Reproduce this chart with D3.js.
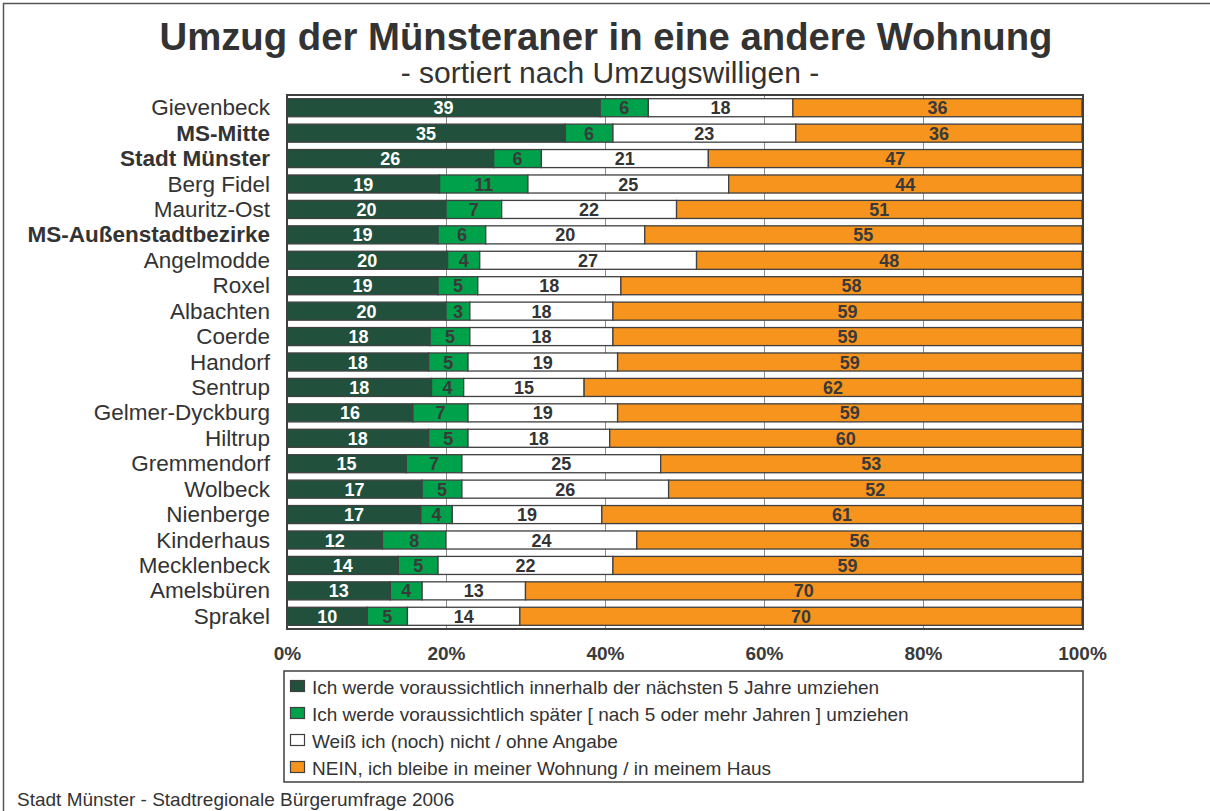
<!DOCTYPE html>
<html>
<head>
<meta charset="utf-8">
<script src="https://cdn.jsdelivr.net/npm/d3@7"></script>
<style>
  html, body { margin: 0; padding: 0; background: #fff; }
  svg { display: block; font-family: "Liberation Sans", Arial, sans-serif; }
</style>
</head>
<body>
<svg id="chart" width="1210" height="811"></svg>
<script>
const categories = ["Gievenbeck","MS-Mitte","Stadt Münster","Berg Fidel","Mauritz-Ost","MS-Außenstadtbezirke","Angelmodde","Roxel","Albachten","Coerde","Handorf","Sentrup","Gelmer-Dyckburg","Hiltrup","Gremmendorf","Wolbeck","Nienberge","Kinderhaus","Mecklenbeck","Amelsbüren","Sprakel"];
const boldCategories = ["MS-Mitte","Stadt Münster","MS-Außenstadtbezirke"];
const soonValues   = [39,35,26,19,20,19,20,19,20,18,18,18,16,18,15,17,17,12,14,13,10];
const laterValues  = [6,6,6,11,7,6,4,5,3,5,5,4,7,5,7,5,4,8,5,4,5];
const unsureValues = [18,23,21,25,22,20,27,18,18,18,19,15,19,18,25,26,19,24,22,13,14];
const stayValues   = [36,36,47,44,51,55,48,58,59,59,59,62,59,60,53,52,61,56,59,70,70];
const seriesKeys = ["soon","later","unsure","stay"];
const seriesNames = [
  "Ich werde voraussichtlich innerhalb der nächsten 5 Jahre umziehen",
  "Ich werde voraussichtlich später [ nach 5 oder mehr Jahren ] umziehen",
  "Weiß ich (noch) nicht / ohne Angabe",
  "NEIN, ich bleibe in meiner Wohnung / in meinem Haus"
];
const xTicks = [0, 0.2, 0.4, 0.6, 0.8, 1];
const titleText = "Umzug der Münsteraner in eine andere Wohnung";
const subtitleText = "- sortiert nach Umzugswilligen -";
const footerText = "Stadt Münster - Stadtregionale Bürgerumfrage 2006";

const colors = { soon: "#21503c", later: "#00a14b", unsure: "#ffffff", stay: "#f7941e" };
const labelColors = { soon: "#ffffff", later: "#3a3a3a", unsure: "#333333", stay: "#3a3a3a" };
const strokeCol = "#404040";
const textCol = "#333333";

const rows = categories.map((c, i) => ({
  cat: c, soon: soonValues[i], later: laterValues[i], unsure: unsureValues[i], stay: stayValues[i]
}));
const stacked = d3.stack().keys(seriesKeys).offset(d3.stackOffsetExpand)(rows);

const svg = d3.select("#chart");
const pLeft = 287, pRight = 1082, pTop = 95, pBottom = 629;

const x = d3.scaleLinear().domain([0, 1]).range([pLeft, pRight]);
const y = d3.scaleBand().domain(categories).range([pTop, pBottom]).paddingInner(0.29).paddingOuter(0.145);

// outer frame
svg.append("rect").attr("x", 3.5).attr("y", 3.5).attr("width", 1300).attr("height", 900)
  .attr("fill", "none").attr("stroke", "#555").attr("stroke-width", 1.5);

// title
svg.append("text").attr("x", 606).attr("y", 50).attr("text-anchor", "middle")
  .attr("font-size", 38.3).attr("font-weight", "bold").attr("fill", textCol).text(titleText);
svg.append("text").attr("x", 610).attr("y", 83).attr("text-anchor", "middle")
  .attr("font-size", 30).attr("fill", textCol).text(subtitleText);

// plot background & gridlines
svg.append("rect").attr("x", pLeft).attr("y", pTop).attr("width", pRight - pLeft).attr("height", pBottom - pTop).attr("fill", "#fff");
svg.append("g").selectAll("line").data(xTicks.slice(1, -1)).join("line")
  .attr("x1", d => Math.round(x(d)) + 0.5).attr("x2", d => Math.round(x(d)) + 0.5)
  .attr("y1", pTop).attr("y2", pBottom).attr("stroke", "#8c8c8c").attr("stroke-width", 1);

// bars
const g = svg.append("g");
stacked.forEach(s => {
  const key = s.key;
  const grp = g.append("g");
  grp.selectAll("rect").data(s).join("rect")
    .attr("x", d => x(d[0])).attr("width", d => x(d[1]) - x(d[0]))
    .attr("y", d => y(d.data.cat)).attr("height", y.bandwidth())
    .attr("fill", colors[key]).attr("stroke", strokeCol).attr("stroke-width", 1.3);
  grp.selectAll("text").data(s).join("text")
    .attr("x", d => (x(d[0]) + x(d[1])) / 2)
    .attr("y", d => y(d.data.cat) + y.bandwidth() / 2 + 6.5)
    .attr("text-anchor", "middle").attr("font-size", 18).attr("font-weight", "bold")
    .attr("fill", labelColors[key]).text(d => d.data[key]);
});

// plot frame
svg.append("rect").attr("x", pLeft).attr("y", pTop).attr("width", pRight + 1 - pLeft).attr("height", pBottom - pTop)
  .attr("fill", "none").attr("stroke", strokeCol).attr("stroke-width", 2);

// category labels
svg.append("g").selectAll("text").data(categories).join("text")
  .attr("x", 270).attr("y", d => y(d) + y.bandwidth() / 2 + 7.5)
  .attr("text-anchor", "end").attr("font-size", 22.5)
  .attr("font-weight", d => boldCategories.includes(d) ? "bold" : "normal")
  .attr("fill", textCol).text(d => d);

// x axis
const axis = d3.axisBottom(x).tickValues(xTicks).tickFormat(d => Math.round(d * 100) + "%").tickSize(0).tickPadding(0);
const ax = svg.append("g").attr("transform", `translate(0, 646)`).call(axis);
ax.select(".domain").remove();
ax.selectAll("text").attr("font-size", 19).attr("font-weight", "bold").attr("fill", "#3a3a3a")
  .attr("font-family", "Liberation Sans, Arial, sans-serif").attr("dy", "0.75em");

// legend
const lg = svg.append("g");
lg.append("rect").attr("x", 284).attr("y", 671).attr("width", 799).attr("height", 111)
  .attr("fill", "#fff").attr("stroke", strokeCol).attr("stroke-width", 1.5);
const items = lg.selectAll("g.item").data(seriesKeys).join("g").attr("class", "item")
  .attr("transform", (d, i) => `translate(0, ${687 + i * 27})`);
items.append("rect").attr("x", 290.5).attr("y", -6.5).attr("width", 14).attr("height", 11)
  .attr("fill", d => colors[d]).attr("stroke", strokeCol).attr("stroke-width", 1.2);
items.append("text").attr("x", 312).attr("y", 6.5).attr("font-size", 19).attr("fill", textCol)
  .text((d, i) => seriesNames[i]);

// footer
svg.append("text").attr("x", 17).attr("y", 806).attr("font-size", 19).attr("fill", textCol).text(footerText);
</script>
</body>
</html>
